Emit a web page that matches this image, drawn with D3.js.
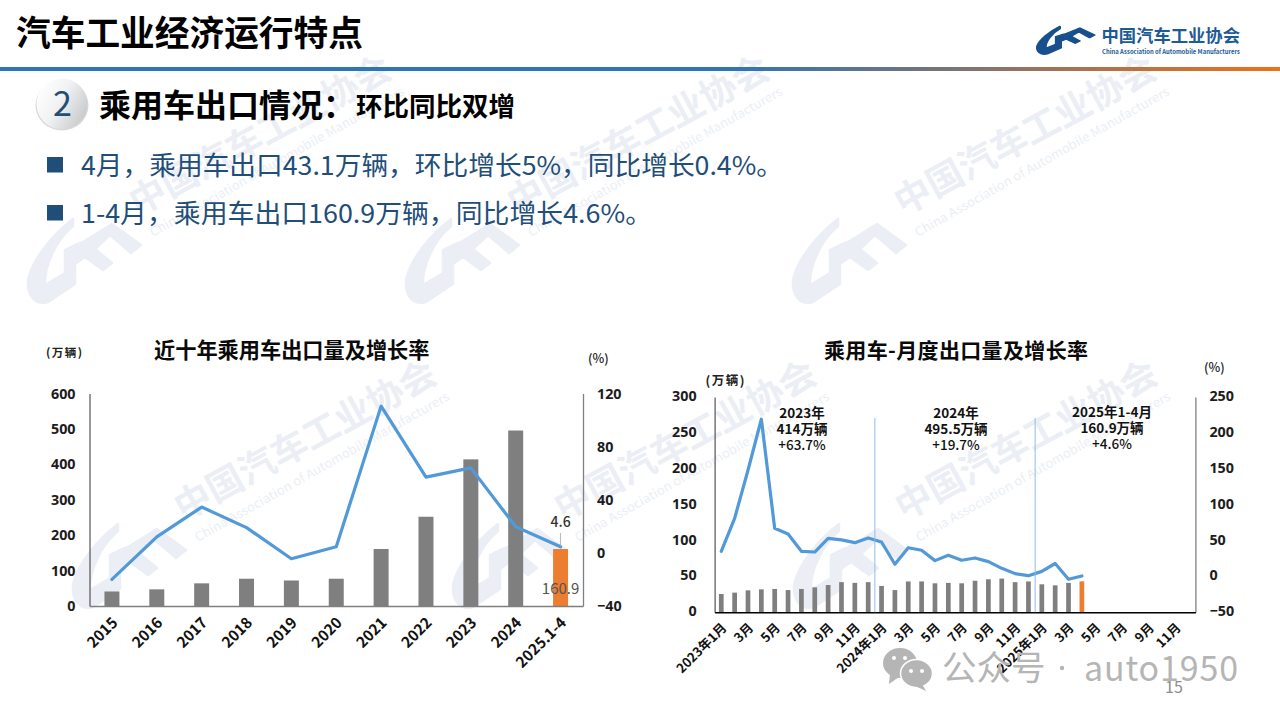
<!DOCTYPE html>
<html lang="zh-CN">
<head>
<meta charset="utf-8">
<title>汽车工业经济运行特点</title>
<script src="https://cdn.jsdelivr.net/npm/d3@7/dist/d3.min.js"></script>
<style>
html,body{margin:0;padding:0;background:#fff;overflow:hidden}
svg{display:block}
text{font-family:"Noto Sans CJK SC","Noto Sans",sans-serif}
.num text,.num{font-family:"Noto Sans","Noto Sans CJK SC",sans-serif}
</style>
</head>
<body>
<svg id="page" width="1280" height="720" viewBox="0 0 1280 720"></svg>
<script>
// ---------- data ----------
const yearCategories = ["2015","2016","2017","2018","2019","2020","2021","2022","2023","2024","2025.1-4"];
const yearVolume = [41,47,64,77,72,77,161,252,414,495.5,160.9];
const yearGrowth = [-20,12,34.5,19,-4.4,4.6,110.5,57,64,19.7,4.6];
const yearVolumeTicks = [0,100,200,300,400,500,600];
const yearGrowthTicks = [-40,0,40,80,120];

const monthCategories = [
  "2023年1月","2023年2月","2023年3月","2023年4月","2023年5月","2023年6月","2023年7月","2023年8月","2023年9月","2023年10月","2023年11月","2023年12月",
  "2024年1月","2024年2月","2024年3月","2024年4月","2024年5月","2024年6月","2024年7月","2024年8月","2024年9月","2024年10月","2024年11月","2024年12月",
  "2025年1月","2025年2月","2025年3月","2025年4月","2025年5月","2025年6月","2025年7月","2025年8月","2025年9月","2025年10月","2025年11月","2025年12月"];
const monthVolume = [25.5,27.4,30.6,32,32.5,31,32.5,34.8,38,42,41,42,
  36.7,31,43,43,40.4,41,40.4,44,46,47,42,43,
  39,37.6,41,43.1];
const monthGrowth = [35,81,148,219,67,59,35,34,53,51,47,53.6,
  48,17,40,36.4,22,29.4,22.5,25.7,20.6,11.3,3.9,1,
  7,18,-4,0.6];
const monthVolumeTicks = [0,50,100,150,200,250,300];
const monthGrowthTicks = [-50,0,50,100,150,200,250];
const yearDividers = ["2024年1月","2025年1月"];
const yearNotes = [
  ["2023年","414万辆","+63.7%"],
  ["2024年","495.5万辆","+19.7%"],
  ["2025年1-4月","160.9万辆","+4.6%"]];
const bulletLines = ["4月，乘用车出口43.1万辆，环比增长5%，同比增长0.4%。","1-4月，乘用车出口160.9万辆，同比增长4.6%。"];

// ---------- colours ----------
const BLUE_LINE="#5199d8", GREY_BAR="#7f7f7f", ORANGE="#ed7d31", NAVY="#1f4e79", WM="#ebeff5";

const svg = d3.select("#page");
const defs = svg.append("defs");

const lg = defs.append("linearGradient").attr("id","rule");
[["0%","#2e75b6"],["57%","#2e75b6"],["100%","#ee7116"]].forEach(s=>lg.append("stop").attr("offset",s[0]).attr("stop-color",s[1]));
const cg = defs.append("linearGradient").attr("id","disc").attr("x1","0").attr("y1","0.2").attr("x2","1").attr("y2","0.75");
[["0%","#ffffff"],["45%","#f1f2f3"],["100%","#c6c7c9"]].forEach(s=>cg.append("stop").attr("offset",s[0]).attr("stop-color",s[1]));

const LOGO="M45,1 C24,17 4,42 0,62 C-1,76 6,88 20,84 L47,66 L47,46 L57,39 L75,52 L84,45 L67,31 L82,17 L103,35 L113,27 L84,6 L55,24 L47,27 L37,32 L37,55 L17,67 C16,48 28,22 45,8 Z";

// ---------- watermarks ----------
const wmLayer = svg.append("g");
[[28,218],[406,218],[793,218],[73,523],[453,523],[794,523]].forEach(([x,y])=>{
  const g = wmLayer.append("g").attr("transform",`translate(${x},${y})`);
  g.append("path").attr("d",LOGO).attr("fill",WM).attr("stroke",WM).attr("stroke-width",2.5).attr("stroke-linejoin","round");
  g.append("text").attr("transform","translate(110,-2) rotate(-28.6)")
    .attr("font-size",36).attr("font-weight",700).attr("fill",WM)
    .attr("textLength",292).attr("lengthAdjust","spacingAndGlyphs").text("中国汽车工业协会");
  g.append("text").attr("transform","translate(125,19) rotate(-29.5)")
    .attr("font-size",12.5).attr("fill",WM).attr("font-family","Noto Sans")
    .attr("textLength",290).attr("lengthAdjust","spacingAndGlyphs").text("China Association of Automobile Manufacturers");
});

// ---------- header ----------
svg.append("text").attr("x",16).attr("y",46).attr("font-size",34.7).attr("font-weight",700).attr("fill","#000").text("汽车工业经济运行特点");
svg.append("rect").attr("x",0).attr("y",67).attr("width",1280).attr("height",4).attr("fill","url(#rule)");
svg.append("path").attr("d",LOGO).attr("transform","translate(1037,26) scale(0.51,0.333)").attr("fill","#17508c")
  .attr("stroke","#17508c").attr("stroke-width",4).attr("stroke-linejoin","round");
svg.append("text").attr("x",1101.5).attr("y",42).attr("font-size",17).attr("font-weight",700).attr("fill","#1d5a96")
  .attr("textLength",138.5).attr("lengthAdjust","spacingAndGlyphs").text("中国汽车工业协会");
svg.append("text").attr("x",1102).attr("y",54).attr("font-size",6.5).attr("font-weight",700).attr("font-family","Noto Sans").attr("fill","#1d5a96")
  .attr("textLength",138).attr("lengthAdjust","spacingAndGlyphs").text("China Association of Automobile Manufacturers");

// section heading
svg.append("ellipse").attr("cx",62).attr("cy",105.5).attr("rx",26.5).attr("ry",25).attr("fill","#b9babc").attr("opacity",.55);
svg.append("circle").attr("cx",62).attr("cy",104).attr("r",25.5).attr("fill","url(#disc)");
svg.append("text").attr("x",62.5).attr("y",116).attr("text-anchor","middle").attr("font-family","Noto Sans").attr("font-size",34).attr("fill",NAVY).text("2");
svg.append("text").attr("x",99).attr("y",117).attr("font-size",32).attr("font-weight",700).attr("fill","#000").text("乘用车出口情况：");
svg.append("text").attr("x",356).attr("y",116).attr("font-size",26.5).attr("font-weight",700).attr("fill","#000").text("环比同比双增");

// bullets
const bulletY=[175,223], bulletLen=[702,571];
bulletLines.forEach((t,i)=>{
  svg.append("rect").attr("x",47).attr("y",bulletY[i]-18).attr("width",16).attr("height",15.5).attr("fill",NAVY);
  svg.append("text").attr("x",81).attr("y",bulletY[i]).attr("font-size",26).attr("fill",NAVY)
    .attr("textLength",bulletLen[i]).attr("lengthAdjust","spacingAndGlyphs").text(t);
});

// ---------- shared drawing ----------
function styleAxis(g, color, width){
  g.select(".domain").attr("stroke",color).attr("stroke-width",width);
  g.selectAll(".tick line").remove();
}
function drawCombo(cfg){
  const x = d3.scaleBand().domain(cfg.cats).range([cfg.left,cfg.right]).paddingInner(cfg.pad).paddingOuter(cfg.pad/2);
  const yL = d3.scaleLinear().domain(d3.extent(cfg.volTicks)).range([cfg.bottom,cfg.top]);
  const yR = d3.scaleLinear().domain(d3.extent(cfg.growthTicks)).range([cfg.bottom,cfg.top]);
  const root = svg.append("g");

  root.append("g").selectAll("rect").data(cfg.vol).join("rect")
    .attr("x",(d,i)=>x(cfg.cats[i])).attr("width",x.bandwidth())
    .attr("y",d=>yL(d)).attr("height",d=>yL(0)-yL(d))
    .attr("fill",(d,i)=>i===cfg.vol.length-1?ORANGE:GREY_BAR);

  const axL = root.append("g").attr("class","num").attr("transform",`translate(${cfg.left},0)`)
    .call(d3.axisLeft(yL).tickValues(cfg.volTicks).tickSize(0).tickSizeOuter(0).tickPadding(cfg.padL));
  styleAxis(axL,"#333",1);
  const axR = root.append("g").attr("class","num").attr("transform",`translate(${cfg.right},0)`)
    .call(d3.axisRight(yR).tickValues(cfg.growthTicks).tickSize(0).tickSizeOuter(0).tickPadding(cfg.padR));
  styleAxis(axR,"#808080",1.3);
  const axB = root.append("g").attr("transform",`translate(0,${cfg.bottom})`)
    .call(d3.axisBottom(x).tickValues(cfg.tickCats).tickFormat(cfg.fmt).tickSize(0).tickSizeOuter(0));
  styleAxis(axB,cfg.baseColor,1.4);
  root.selectAll(".num text").attr("font-size",14.3).attr("font-weight",700).attr("fill","#1c1c1c").attr("font-family","Noto Sans")
    .attr("transform",`translate(0,${cfg.numDy})`);
  axB.selectAll("text").attr("x",0).attr("y",0).attr("dy",".35em")
    .attr("transform",`translate(${cfg.labelShift[0]},${cfg.labelShift[1]}) rotate(-45)`)
    .style("text-anchor","end").attr("font-size",cfg.labelSize).attr("font-weight",700).attr("fill","#111")
    .attr("font-family",'"Noto Sans CJK SC",sans-serif');

  root.append("path").datum(cfg.growth)
    .attr("d",d3.line().x((d,i)=>x(cfg.cats[i])+x.bandwidth()/2).y(d=>yR(d)))
    .attr("fill","none").attr("stroke",BLUE_LINE).attr("stroke-width",3.2).attr("stroke-linejoin","round").attr("stroke-linecap","round");
  return {x,yL,yR,root};
}

// ---------- left chart ----------
const left = drawCombo({
  cats:yearCategories,tickCats:yearCategories,fmt:d=>d,vol:yearVolume,growth:yearGrowth,
  volTicks:yearVolumeTicks,growthTicks:yearGrowthTicks,
  left:89.5,right:583,top:393.5,bottom:606,pad:.666,padL:14,padR:14,numDy:0,
  baseColor:"#7f7f7f",labelSize:15,labelShift:[3,14]
});
svg.append("text").attr("x",154).attr("y",358).attr("font-size",21.2).attr("font-weight",700).attr("fill","#0a0a0a").text("近十年乘用车出口量及增长率");
svg.append("text").attr("x",46).attr("y",357).attr("font-size",11.5).attr("font-weight",700).attr("fill","#222")
  .attr("textLength",36).attr("lengthAdjust","spacing").text("(万辆)");
svg.append("text").attr("x",588).attr("y",363).attr("font-size",12.5).attr("fill","#222").attr("font-weight",500).text("(%)");
const lastYear = yearCategories[yearCategories.length-1];
const lastX = left.x(lastYear)+left.x.bandwidth()/2;
svg.append("line").attr("x1",lastX).attr("x2",lastX).attr("y1",533).attr("y2",left.yR(yearGrowth[yearGrowth.length-1])).attr("stroke","#a6a6a6").attr("stroke-width",.8);
svg.append("text").attr("x",lastX).attr("y",527).attr("text-anchor","middle").attr("font-size",14).attr("font-family","Noto Sans").attr("font-weight",500).attr("fill","#333").text(String(yearGrowth[yearGrowth.length-1]));
svg.append("text").attr("x",lastX).attr("y",594).attr("text-anchor","middle").attr("font-size",15).attr("font-family","Noto Sans").attr("fill","#555").text(String(yearVolume[yearVolume.length-1]));

// ---------- right chart ----------
const tickMonths = monthCategories.filter((d,i)=>i%2===0);
const right = drawCombo({
  cats:monthCategories,tickCats:tickMonths,fmt:d=>d.endsWith("年1月")?d:d.split("年")[1],vol:monthVolume,growth:monthGrowth,
  volTicks:monthVolumeTicks,growthTicks:monthGrowthTicks,
  left:714.6,right:1195.4,top:397,bottom:612.3,pad:.648,padL:18,padR:14,numDy:-1,
  baseColor:"#000",labelSize:13,labelShift:[3,13]
});
yearDividers.forEach(c=>{
  const px = right.x(c)-right.x.step()*right.x.paddingInner()/2;
  svg.append("line").attr("x1",px).attr("x2",px).attr("y1",418).attr("y2",612.3).attr("stroke","#8fbde6").attr("stroke-width",1);
});
svg.append("text").attr("x",824).attr("y",358).attr("font-size",21).attr("font-weight",700).attr("fill","#0a0a0a")
  .attr("textLength",264).attr("lengthAdjust","spacing").text("乘用车-月度出口量及增长率");
svg.append("text").attr("x",705.5).attr("y",385).attr("font-size",12.5).attr("font-weight",700).attr("fill","#222")
  .attr("textLength",39).attr("lengthAdjust","spacing").text("(万辆)");
svg.append("text").attr("x",1204).attr("y",372).attr("font-size",12.5).attr("font-weight",500).attr("fill","#222").text("(%)");
const noteX=[802,956,1112], noteY=[418,418,417];
yearNotes.forEach((lines,i)=>{
  const t = svg.append("text").attr("x",noteX[i]).attr("y",noteY[i]).attr("text-anchor","middle")
    .attr("font-size",13.5).attr("fill","#111");
  lines.forEach((s,j)=>t.append("tspan").attr("x",noteX[i]).attr("dy",j?16:0).attr("font-weight",j<2?700:500).text(s));
});

// ---------- account mark and page number ----------
const wc = svg.append("g").attr("fill","#b5b5b5");
wc.append("ellipse").attr("cx",900).attr("cy",663).attr("rx",17).attr("ry",15);
wc.append("path").attr("d","M890,674 L889,684 L899,677 Z");
wc.append("ellipse").attr("cx",916.5).attr("cy",673.5).attr("rx",16).attr("ry",14).attr("stroke","#fff").attr("stroke-width",1.5);
wc.append("path").attr("d","M922,684 L926,691 L915,686 Z");
[[894,658],[905,658],[911,671],[922,671]].forEach(p=>wc.append("circle").attr("cx",p[0]).attr("cy",p[1]).attr("r",2).attr("fill","#fff"));
svg.append("text").attr("x",942).attr("y",680).attr("font-size",34.5).attr("fill","#b5b5b5").text("公众号");
svg.append("circle").attr("cx",1062).attr("cy",668).attr("r",2.2).attr("fill","#b5b5b5");
svg.append("text").attr("x",1084).attr("y",681).attr("font-size",34).attr("font-family","Noto Sans").attr("fill","#b5b5b5")
  .attr("textLength",154).attr("lengthAdjust","spacing").text("auto1950");
svg.append("text").attr("x",1165).attr("y",693).attr("font-size",16).attr("font-family","Noto Sans").attr("fill","#8c8c8c").text("15");
</script>
</body>
</html>
